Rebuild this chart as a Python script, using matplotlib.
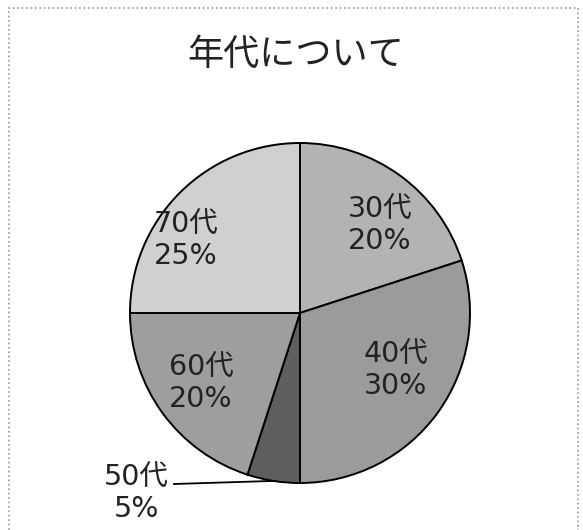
import matplotlib
matplotlib.use("Agg")
import matplotlib.pyplot as plt
import numpy as np
from matplotlib.patches import Rectangle

plt.rcParams["font.family"] = ["Noto Sans CJK JP", "DejaVu Sans"]
label_font = ["DejaVu Sans", "Noto Sans CJK JP"]

# data
labels = ["30代", "40代", "50代", "60代", "70代"]
shares = [20, 30, 5, 20, 25]
colors = ["#b3b3b3", "#9b9b9b", "#5e5e5e", "#9e9e9e", "#d0d0d0"]
title = "年代について"

W, H = 583, 530
fig = plt.figure(figsize=(W / 100, H / 100), dpi=100)
ax = fig.add_axes([0, 0, 1, 1])

cx, cy, r = 300, H - 313, 170
wedges, _ = ax.pie(shares, colors=colors, startangle=90, counterclock=False,
                   center=(cx, cy), radius=r, frame=True,
                   wedgeprops=dict(edgecolor="black", linewidth=1.4))
ax.set_xlim(0, W)
ax.set_ylim(0, H)
ax.set_aspect("equal")
ax.axis("off")

# label placement (pixel layout, y from top)
label_pos = {"30代": (380, 225), "40代": (396, 370), "60代": (201, 383), "70代": (186, 240)}
for name, val in zip(labels, shares):
    if name in label_pos:
        x, y = label_pos[name]
        ax.text(x, H - y, f"{name}\n{val}%", ha="center", va="center",
                fontsize=20.5, color="#222222", linespacing=1.22, family=label_font)

# small slice gets an outside label with a leader line
i = labels.index("50代")
w = wedges[i]
mid = np.deg2rad((w.theta1 + w.theta2) / 2)
tip = (cx + r * np.cos(mid), cy + r * np.sin(mid))
ax.plot([174, tip[0]], [H - 484, tip[1]], color="black", lw=1.3)
ax.text(136, H - 493, f"{labels[i]}\n{shares[i]}%", ha="center", va="center",
        fontsize=20.5, color="#222222", linespacing=1.22, family=label_font)

ax.text(296, H - 55, title, ha="center", va="center", fontsize=26, color="#222222")

fig.patches.append(Rectangle((9 / W, -0.02), (578 - 9) / W, 1.02 - 8 / H,
                             transform=fig.transFigure, fill=False,
                             edgecolor="#999999", linestyle=":", linewidth=1.2))

fig.savefig("out.png", dpi=100)
